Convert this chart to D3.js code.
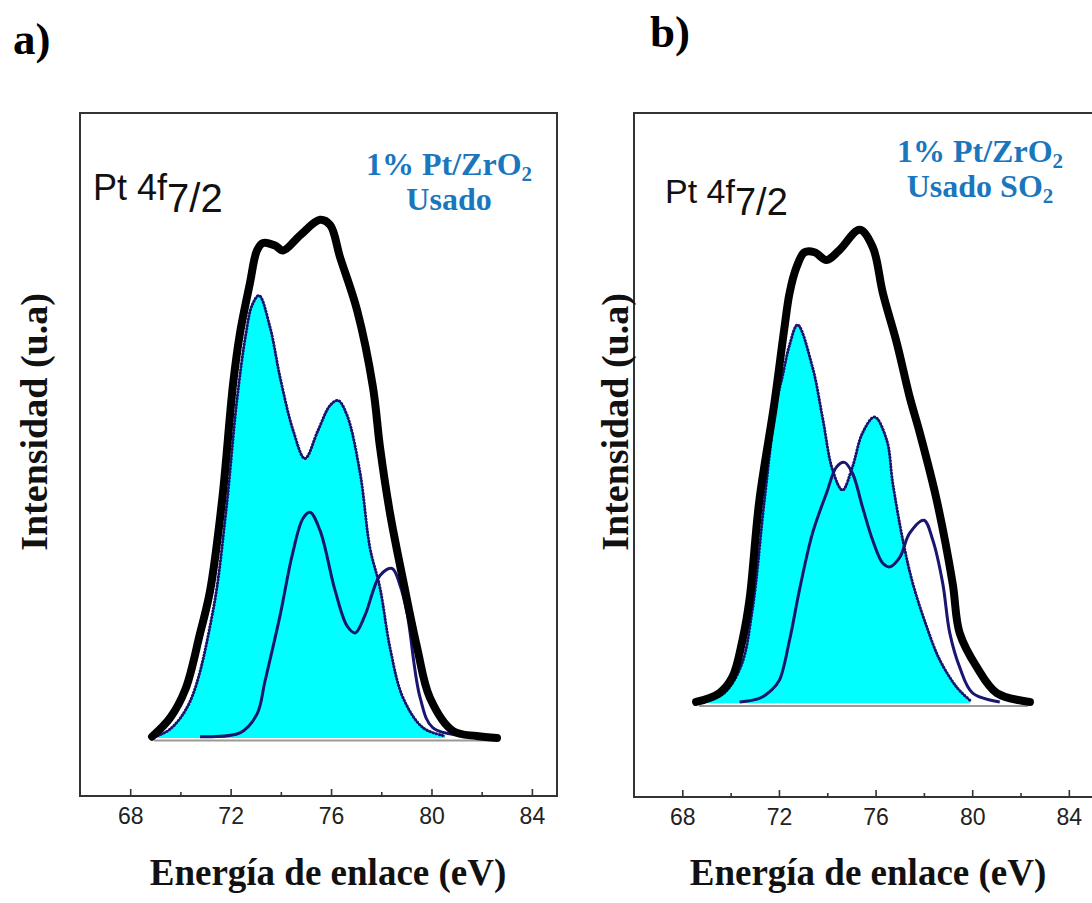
<!DOCTYPE html>
<html>
<head>
<meta charset="utf-8">
<script src="https://cdn.jsdelivr.net/npm/d3@7"></script>
<style>
  body { margin: 0; background: #fff; }
  svg { display: block; }
</style>
</head>
<body>
<script>
// --- data: [binding energy eV, intensity a.u.] ---
var energyTicks = [68, 72, 76, 80, 84];
var minorTicks = [70, 74, 78, 82];

// panel a) 1% Pt/ZrO2 Usado
var envelopeA = [[68.87,0.2],[69.59,3.2],[70.2,7.8],[70.78,16.7],[71.18,23.5],[71.66,38.0],[72.10,56.7],
  [72.37,64.7],[72.77,72.8],[73.05,78.0],[73.29,79.2],[73.77,78.8],[74.09,78.0],[74.76,80.4],[75.56,82.9],
  [75.96,82.1],[76.36,76.9],[77.04,68.4],[77.67,56.1],[77.95,46.5],[78.35,35.9],[78.87,25.2],[79.43,14.4],
  [79.94,6.4],[80.86,1.1],[81.8,0.3],[82.61,0.0]];
var peak1A = [[68.99,0.2],[69.59,1.4],[70.38,5.8],[71.30,20.4],[71.82,36.4],[72.25,54.0],[72.61,64.7],
  [72.85,69.2],[73.13,70.8],[73.57,65.7],[73.97,57.7],[74.49,49.2],[74.96,44.7],[75.48,49.2],[75.96,53.2],
  [76.28,54.0],[76.64,51.6],[77.16,42.3],[77.55,30.4],[77.95,24.0],[78.35,14.4],[78.87,6.4],[79.67,1.6],[80.54,0.3]];
var peak2A = [[70.78,0.2],[72.37,0.8],[73.05,3.8],[73.37,9.1],[73.97,19.6],[74.45,29.2],[74.88,35.1],
  [75.16,36.1],[75.56,33.2],[76.16,23.6],[76.64,17.9],[76.96,16.8],[77.35,19.6],[77.95,26.0],[78.43,27.1],
  [78.75,24.4],[79.03,19.9],[79.55,6.4],[80.06,1.6],[81.54,0.2]];
var baselineA = [[68.95,-0.4],[82.5,-0.4]];

// panel b) 1% Pt/ZrO2 Usado SO2
var envelopeB = [[68.57,0.2],[69.53,1.7],[70.07,4.4],[70.49,10.7],[70.78,17.5],[71.19,34.4],[71.81,50.8],
  [72.23,63.7],[72.44,69.5],[72.73,73.9],[73.06,76.4],[73.47,76.4],[73.97,75.1],[74.51,76.8],[75.34,80.2],
  [75.88,77.3],[76.30,69.5],[76.88,61.0],[77.41,51.9],[77.83,45.8],[78.53,34.4],[79.19,20.3],[79.48,11.9],
  [80.19,6.1],[81.02,1.7],[82.39,0.2]];
var peak1B = [[68.90,0.2],[69.73,1.7],[70.44,6.4],[70.90,15.8],[71.40,34.4],[71.89,50.8],[72.14,55.3],
  [72.44,60.7],[72.77,64.1],[73.39,56.9],[73.80,48.5],[74.22,39.5],[74.63,36.1],[75.04,40.0],[75.46,45.8],
  [75.96,48.5],[76.46,44.6],[76.71,37.3],[77.13,27.6],[77.54,20.3],[78.12,12.9],[78.66,7.3],[79.36,2.7],[79.90,0.5]];
var peak2B = [[70.37,0.2],[71.19,0.8],[71.69,2.2],[72.02,3.9],[72.44,10.7],[72.85,19.2],[73.39,28.8],
  [73.97,35.6],[74.38,40.0],[74.71,40.8],[75.04,39.0],[75.46,33.2],[75.88,27.6],[76.30,23.7],[76.59,23.1],
  [77.00,24.7],[77.41,28.8],[78.00,31.0],[78.37,27.6],[78.78,20.3],[79.07,11.9],[79.48,6.1],[80.02,1.7],[81.14,0.2]];
var baselineB = [[68.7,-0.5],[82.3,-0.5]];

var panels = [
  { letter: 'a)', lx: 13, ly: 54, left: 80, right: 557, top: 113, bottom: 796, yMin: -9.3,
    envelope: envelopeA, peak1: peak1A, peak2: peak2A, baseline: baselineA,
    ptX: 93, ptY: 200, ptSize: 36, subSize: 40, labelX: 449, labelY: 175, line2: 'Usado', line2Sub: '',
    yTitleX: 47, xTitleX: 328 },
  { letter: 'b)', lx: 650, ly: 47, left: 634, right: 1093, top: 113, bottom: 797, yMin: -15.9,
    envelope: envelopeB, peak1: peak1B, peak2: peak2B, baseline: baselineB,
    ptX: 665, ptY: 203, ptSize: 34, subSize: 38, labelX: 980, labelY: 162, line2: 'Usado SO', line2Sub: '2',
    yTitleX: 628, xTitleX: 868 }
];

var svg = d3.select('body').append('svg')
  .attr('width', 1092)
  .attr('height', 903);

var serif = "'Liberation Serif', 'Times New Roman', serif";
var sans = "'Liberation Sans', Arial, sans-serif";
var blue = '#1a76bd';
var navy = '#18166e';

panels.forEach(function (p, i) {
  var x = d3.scaleLinear().domain([66, 85]).range([p.left, p.right]);
  var y = d3.scaleLinear().domain([p.yMin, 100]).range([p.bottom, p.top]);

  var clipId = 'clip' + i;
  svg.append('clipPath').attr('id', clipId)
    .append('rect')
    .attr('x', p.left).attr('y', p.top)
    .attr('width', p.right - p.left).attr('height', p.bottom - p.top);

  var g = svg.append('g').attr('clip-path', 'url(#' + clipId + ')');

  var line = d3.line()
    .x(function (d) { return x(d[0]); })
    .y(function (d) { return y(d[1]); })
    .curve(d3.curveCatmullRom.alpha(0.5));

  var area = d3.area()
    .x(function (d) { return x(d[0]); })
    .y0(y(0))
    .y1(function (d) { return y(d[1]); })
    .curve(d3.curveCatmullRom.alpha(0.5));

  // baseline
  g.append('path')
    .datum(p.baseline)
    .attr('fill', 'none')
    .attr('stroke', '#999')
    .attr('stroke-width', 2)
    .attr('d', line);

  // filled component, outlined with small dots
  g.append('path')
    .datum(p.peak1)
    .attr('fill', '#00ffff')
    .attr('d', area);

  g.append('path')
    .datum(p.peak1)
    .attr('fill', 'none')
    .attr('stroke', navy)
    .attr('stroke-width', 1.2)
    .attr('d', line);

  g.append('path')
    .datum(p.peak1)
    .attr('fill', 'none')
    .attr('stroke', navy)
    .attr('stroke-width', 3)
    .attr('stroke-linecap', 'round')
    .attr('stroke-dasharray', '0.4,2.8')
    .attr('d', line);

  // second component
  g.append('path')
    .datum(p.peak2)
    .attr('fill', 'none')
    .attr('stroke', navy)
    .attr('stroke-width', 3)
    .attr('d', line);

  // experimental envelope
  g.append('path')
    .datum(p.envelope)
    .attr('fill', 'none')
    .attr('stroke', '#000')
    .attr('stroke-width', 8)
    .attr('stroke-linejoin', 'round')
    .attr('stroke-linecap', 'round')
    .attr('d', line);

  // frame
  svg.append('rect')
    .attr('x', p.left).attr('y', p.top)
    .attr('width', p.right - p.left).attr('height', p.bottom - p.top)
    .attr('fill', 'none')
    .attr('stroke', '#333')
    .attr('stroke-width', 2);

  // bottom axis, ticks pointing in
  var ax = svg.append('g')
    .attr('transform', 'translate(0,' + p.bottom + ')')
    .call(d3.axisBottom(x).tickValues(energyTicks).tickSize(-7).tickPadding(12).tickFormat(d3.format('d')));
  ax.select('.domain').remove();
  ax.selectAll('.tick line').attr('stroke', '#333').attr('stroke-width', 1.6);
  ax.selectAll('.tick text')
    .attr('font-family', sans)
    .attr('font-size', 23)
    .attr('fill', '#222');

  var axm = svg.append('g')
    .attr('transform', 'translate(0,' + p.bottom + ')')
    .call(d3.axisBottom(x).tickValues(minorTicks).tickSize(-4).tickFormat(''));
  axm.select('.domain').remove();
  axm.selectAll('.tick line').attr('stroke', '#333').attr('stroke-width', 1.6);

  // panel letter
  svg.append('text')
    .attr('x', p.lx).attr('y', p.ly)
    .attr('font-family', serif)
    .attr('font-weight', 'bold')
    .attr('font-size', 45)
    .text(p.letter);

  // Pt 4f7/2
  var pt = svg.append('text')
    .attr('x', p.ptX).attr('y', p.ptY)
    .attr('font-family', sans)
    .attr('font-size', p.ptSize)
    .attr('fill', '#111');
  pt.append('tspan').text('Pt 4f');
  pt.append('tspan').attr('dy', 12).attr('font-size', p.subSize).text('7/2');

  // sample label
  var l1 = svg.append('text')
    .attr('x', p.labelX).attr('y', p.labelY)
    .attr('text-anchor', 'middle')
    .attr('font-family', serif)
    .attr('font-weight', 'bold')
    .attr('font-size', 32)
    .attr('fill', blue);
  l1.append('tspan').text('1% Pt/ZrO');
  l1.append('tspan').attr('dy', 6).attr('font-size', 21).text('2');

  var l2 = svg.append('text')
    .attr('x', p.labelX).attr('y', p.labelY + 35)
    .attr('text-anchor', 'middle')
    .attr('font-family', serif)
    .attr('font-weight', 'bold')
    .attr('font-size', 32)
    .attr('fill', blue);
  l2.append('tspan').text(p.line2);
  if (p.line2Sub) l2.append('tspan').attr('dy', 6).attr('font-size', 21).text(p.line2Sub);

  // axis titles
  svg.append('text')
    .attr('transform', 'translate(' + p.yTitleX + ',422) rotate(-90)')
    .attr('text-anchor', 'middle')
    .attr('font-family', serif)
    .attr('font-weight', 'bold')
    .attr('font-size', 38)
    .attr('fill', '#111')
    .text('Intensidad (u.a)');

  svg.append('text')
    .attr('x', p.xTitleX).attr('y', 885)
    .attr('text-anchor', 'middle')
    .attr('font-family', serif)
    .attr('font-weight', 'bold')
    .attr('font-size', 37)
    .attr('fill', '#111')
    .text('Energía de enlace (eV)');
});
</script>
</body>
</html>
